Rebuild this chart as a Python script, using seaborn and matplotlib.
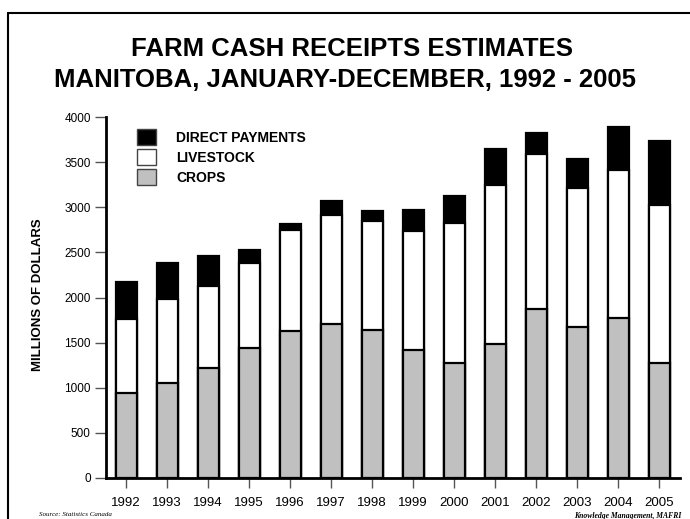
import matplotlib
matplotlib.use("Agg")
import matplotlib.pyplot as plt
import matplotlib.patches as mpatches
import seaborn as sns
import pandas as pd

# values (millions of dollars)
years = ["1992", "1993", "1994", "1995", "1996", "1997", "1998",
         "1999", "2000", "2001", "2002", "2003", "2004", "2005"]
crops = [947, 1054, 1220, 1438, 1633, 1707, 1641,
         1423, 1276, 1486, 1873, 1670, 1770, 1276]
livestock = [815, 929, 907, 944, 1110, 1202, 1209,
             1316, 1552, 1758, 1714, 1541, 1644, 1747]
direct_payments = [409, 399, 336, 140, 66, 158, 110,
                   232, 302, 402, 240, 324, 479, 708]

series_names = ["DIRECT PAYMENTS", "LIVESTOCK", "CROPS"]
series_colors = ["black", "white", "#c0c0c0"]

df = pd.DataFrame({"year": years, "crops": crops,
                   "livestock": livestock, "direct": direct_payments})
df["top_livestock"] = df["crops"] + df["livestock"]
df["total"] = df["top_livestock"] + df["direct"]

sns.set_style("white")
plt.rcParams["font.family"] = ["Liberation Sans", "DejaVu Sans"]
plt.rcParams["text.color"] = "black"
plt.rcParams["xtick.color"] = "black"
plt.rcParams["ytick.color"] = "black"
plt.rcParams["axes.labelcolor"] = "black"

fig = plt.figure(figsize=(6.9, 5.19), dpi=100)
ax = fig.add_axes([106 / 690, 41 / 519, 574 / 690, 361 / 519])

# stacked bars drawn as overlapping cumulative bars
bar_kw = dict(edgecolor="black", linewidth=1.6, width=0.51, ax=ax, saturation=1)
sns.barplot(data=df, x="year", y="total", color=series_colors[0], **bar_kw)
sns.barplot(data=df, x="year", y="top_livestock", color=series_colors[1], **bar_kw)
sns.barplot(data=df, x="year", y="crops", color=series_colors[2], **bar_kw)

ax.set_ylim(0, 4000)
ax.set_xlim(-0.49, 13.51)
ax.set_yticks(range(0, 4001, 500))
ax.set_xlabel("")
ax.set_ylabel("MILLIONS OF DOLLARS", fontsize=9.5, fontweight="heavy")
ax.yaxis.set_label_coords(-0.108, 0.507)

for side in ["top", "right"]:
    ax.spines[side].set_visible(False)
ax.spines["left"].set_linewidth(2)
ax.spines["bottom"].set_linewidth(2)
ax.spines["left"].set_color("black")
ax.spines["bottom"].set_color("black")

ax.tick_params(axis="y", direction="out", length=8, width=1, color="#555555",
               labelsize=8.5, pad=3, left=True)
ax.tick_params(axis="x", direction="out", length=7, width=1, color="#555555",
               labelsize=9.5, pad=7, bottom=True)

handles = [mpatches.Patch(facecolor=c, edgecolor="#444444", linewidth=1)
           for c in series_colors]
leg = ax.legend(handles, series_names, loc="upper left",
                bbox_to_anchor=(0.054, 0.966), frameon=False,
                prop={"size": 10, "weight": "bold"},
                handlelength=1.4, handleheight=1.4, labelspacing=0.28,
                handletextpad=1.4, borderpad=0, borderaxespad=0)

fig.text(0.51, 0.905, "FARM CASH RECEIPTS ESTIMATES", ha="center", va="center",
         fontsize=18.5, fontweight="bold")
fig.text(0.5, 0.845, "MANITOBA, JANUARY-DECEMBER, 1992 - 2005", ha="center",
         va="center", fontsize=18.5, fontweight="bold")

fig.text(0.057, 0.0135, "Source: Statistics Canada", ha="left", va="top",
         fontsize=5, style="italic", family="Liberation Serif")
fig.text(0.988, 0.0135, "Knowledge Management, MAFRI", ha="right", va="top",
         fontsize=5.5, style="italic", weight="bold", family="Liberation Serif")

# outer frame (top and left edges visible)
fig.add_artist(plt.Line2D([8 / 690, 1.0], [1 - 13 / 519, 1 - 13 / 519],
                          color="black", linewidth=1.5))
fig.add_artist(plt.Line2D([8 / 690, 8 / 690], [0, 1 - 13 / 519],
                          color="black", linewidth=1.5))

fig.savefig("out.png", dpi=100)
